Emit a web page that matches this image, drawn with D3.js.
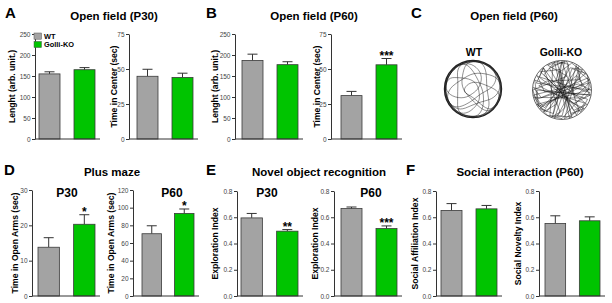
<!DOCTYPE html>
<html>
<head>
<meta charset="utf-8">
<script src="https://cdn.jsdelivr.net/npm/d3@7"></script>
<style>
  body { margin: 0; background: #fff; }
  text { font-family: "Liberation Sans", Arial, sans-serif; font-weight: bold; }
</style>
</head>
<body>
<svg id="chart" width="612" height="303"></svg>
<script>
const groups = ["WT", "Golli-KO"];
const groupColors = ["#a3a3a3", "#00c400"];

// bar means and SEM, [WT, Golli-KO]
const lengthP30 = [155, 165];
const lengthP30Err = [5, 5];
const centerP30 = [44.8, 44];
const centerP30Err = [5, 3];
const lengthP60 = [187, 177];
const lengthP60Err = [15, 7];
const centerP60 = [31, 53];
const centerP60Err = [3, 4.5];
const openArmsP30 = [13.8, 20.3];
const openArmsP30Err = [2.7, 2.7];
const openArmsP60 = [70.5, 93.5];
const openArmsP60Err = [9, 5];
const novelP30 = [0.595, 0.494];
const novelP30Err = [0.034, 0.012];
const novelP60 = [0.666, 0.514];
const novelP60Err = [0.012, 0.02];
const affiliation = [0.652, 0.664];
const affiliationErr = [0.052, 0.026];
const novelty = [0.553, 0.573];
const noveltyErr = [0.058, 0.03];

// significance marks, [WT, Golli-KO]
const starsCenterP60 = ["", "***"];
const starsArmsP30 = ["", "*"];
const starsArmsP60 = ["", "*"];
const starsNovelP30 = ["", "**"];
const starsNovelP60 = ["", "***"];

// tick labels
const ticks250 = [0, 50, 100, 150, 200, 250];
const ticks75 = [0, 25, 50, 75];
const ticks30 = [0, 10, 20, 30];
const ticks120 = [0, 20, 40, 60, 80, 100, 120];
const ticks08 = [0, 0.2, 0.4, 0.6, 0.8];

// open field tracks, waypoints as [angle deg, radius fraction]
const wtTrack = [
  [0,.99],[20,.99],[40,1],[60,.99],[80,1],[100,.99],[120,1],[140,.99],[160,1],[180,.99],
  [200,1],[220,.99],[240,1],[260,.99],[280,1],[300,.99],[320,1],[340,.99],[355,.75],[15,.45],
  [60,.3],[110,.4],[150,.75],[170,1],[190,.97],[210,1],[230,.97],[250,1],[270,.97],[290,1],
  [310,.97],[330,1],[350,.97],[10,1],[30,.97],[50,1],[70,.97],[90,1],[110,.97],[130,1],
  [150,.96],[165,.6],[190,.35],[240,.3],[290,.45],[330,.7],[345,.95],[5,1],[25,.98],[45,1],
  [65,.95],[85,.7],[100,.45],[130,.3],[170,.35],[200,.55],[220,.9],[240,1],[260,.98],[280,1],
  [300,.96],[320,1],[340,.98],[0,.97],[20,1],[40,.75],[70,.5],[110,.55],[135,.85],[155,1],
  [175,.98],[195,1],[215,.96],[230,.7],[260,.55],[300,.6],[320,.9],[340,1],[0,.98],[25,1],
  [50,.97],[75,1],[100,.98],[125,1],[145,.96],[160,.45],[200,.25],[250,.35],[280,.3],[330,.25],
  [30,.3],[80,.55],[95,.95],[115,1],[140,.98],[165,1],[190,.98],[215,1],[240,.97],[265,1],
  [290,.98],[315,1],[345,.99],[10,.8],[40,.55],[90,.2],[180,.15],[220,.45],[250,.8],[270,1],
  [295,.97],[305,.7],[340,.4],[40,.25],[120,.25],[150,.5],[185,.8],[205,1],[230,.98],[255,1],
  [280,.75],[310,.5],[0,.6],[50,.8],[70,1],[95,.97],[120,.75],[140,.55],[190,.6],[210,.88],
  [235,1],[260,.97],[285,1],[310,.98],[335,1],[355,.98]
];
const koTrack = [
  [0,.95],[140,.9],[175,.97],[40,.85],[70,.98],[230,.9],[255,.97],[110,.8],[95,.95],[300,.88],
  [320,.98],[185,.75],[200,.96],[15,.9],[350,.97],[160,.85],[130,.98],[280,.8],[300,.6],[60,.7],
  [35,.97],[215,.9],[240,.98],[90,.9],[65,.96],[250,.75],[275,.97],[120,.88],[150,.97],[330,.85],
  [5,.98],[200,.5],[220,.97],[20,.8],[45,.98],[190,.9],[160,.97],[355,.7],[310,.96],[140,.6],
  [100,.98],[270,.85],[235,.97],[80,.7],[30,.96],[180,.88],[205,.97],[340,.9],[10,.98],[120,.5],
  [75,.97],[250,.9],[290,.98],[110,.92],[140,.98],[310,.8],[345,.98],[170,.6],[195,.98],[25,.8],
  [55,.98],[225,.85],[260,.98],[70,.6],[90,.98],[285,.9],[320,.98],[150,.8],[120,.97],[330,.4],
  [0,.97],[200,.85],[230,.98],[45,.7],[100,.97],[265,.6],[300,.97],[135,.85],[165,.98],[350,.6],
  [20,.97],[60,.99],[85,.96],[180,.97],[210,.99],[240,.96],[270,.99],[20,.5],[330,.97],[355,.99]
];

const svg = d3.select("#chart");
svg.append("rect").attr("width", 612).attr("height", 303).attr("fill", "#fff");

// layout of each small bar chart
const plots = [
  { vals: lengthP30, errs: lengthP30Err, ticks: ticks250, fmt: d3.format("d"), label: "Lenght (arb. unit.)",
    ax: 35, b0: 39, b1: 95, top: 34, bottom: 139, labelX: 12 },
  { vals: centerP30, errs: centerP30Err, ticks: ticks75, fmt: d3.format("d"), label: "Time in Center (sec)",
    ax: 129, b0: 137, b1: 193, top: 34, bottom: 139, labelX: 114 },
  { vals: lengthP60, errs: lengthP60Err, ticks: ticks250, fmt: d3.format("d"), label: "Lenght (arb. unit.)",
    ax: 235, b0: 242, b1: 298, top: 34, bottom: 139, labelX: 215 },
  { vals: centerP60, errs: centerP60Err, ticks: ticks75, fmt: d3.format("d"), label: "Time in Center (sec)",
    ax: 331, b0: 341, b1: 397, top: 34, bottom: 139, labelX: 317, stars: starsCenterP60 },
  { vals: openArmsP30, errs: openArmsP30Err, ticks: ticks30, fmt: d3.format("d"), label: "Time in Open Arms (sec)",
    ax: 32, b0: 38, b1: 95, top: 190, bottom: 296, labelX: 15, stars: starsArmsP30 },
  { vals: openArmsP60, errs: openArmsP60Err, ticks: ticks120, fmt: d3.format("d"), label: "Time in Open Arms (sec)",
    ax: 133, b0: 142, b1: 194, top: 190, bottom: 296, labelX: 111, stars: starsArmsP60 },
  { vals: novelP30, errs: novelP30Err, ticks: ticks08, fmt: d3.format(".1f"), label: "Exploration Index",
    ax: 237, b0: 241, b1: 298, top: 191, bottom: 296, labelX: 215, stars: starsNovelP30 },
  { vals: novelP60, errs: novelP60Err, ticks: ticks08, fmt: d3.format(".1f"), label: "Exploration Index",
    ax: 334, b0: 341, b1: 397, top: 191, bottom: 296, labelX: 315, stars: starsNovelP60 },
  { vals: affiliation, errs: affiliationErr, ticks: ticks08, fmt: d3.format(".1f"), label: "Social Affiliation Index",
    ax: 436, b0: 441, b1: 497, top: 191, bottom: 296, labelX: 415 },
  { vals: novelty, errs: noveltyErr, ticks: ticks08, fmt: d3.format(".1f"), label: "Social Novelty Index",
    ax: 539, b0: 545, b1: 600, top: 191, bottom: 296, labelX: 518 }
];

plots.forEach((p) => {
  const g = svg.append("g");
  const x = d3.scaleBand().domain(groups).range([p.b0, p.b1]).paddingInner(0.4).paddingOuter(0);
  const y = d3.scaleLinear().domain([0, d3.max(p.ticks)]).range([p.bottom, p.top]);
  const rows = groups.map((k, i) => ({ k, v: p.vals[i], e: p.errs[i], s: p.stars ? p.stars[i] : "", c: groupColors[i] }));

  // error bars (upper only)
  const eb = g.selectAll(".err").data(rows).enter().append("g");
  eb.append("line")
    .attr("x1", (d) => x(d.k) + x.bandwidth() / 2)
    .attr("x2", (d) => x(d.k) + x.bandwidth() / 2)
    .attr("y1", (d) => y(d.v)).attr("y2", (d) => y(d.v + d.e))
    .attr("stroke", "#333").attr("stroke-width", 1);
  eb.append("line")
    .attr("x1", (d) => x(d.k) + x.bandwidth() / 2 - 5)
    .attr("x2", (d) => x(d.k) + x.bandwidth() / 2 + 5)
    .attr("y1", (d) => y(d.v + d.e)).attr("y2", (d) => y(d.v + d.e))
    .attr("stroke", "#333").attr("stroke-width", 1);

  g.selectAll(".bar").data(rows).enter().append("rect")
    .attr("x", (d) => x(d.k))
    .attr("y", (d) => y(d.v))
    .attr("width", x.bandwidth())
    .attr("height", (d) => y(0) - y(d.v))
    .attr("fill", (d) => d.c)
    .attr("stroke", "#3a3a3a").attr("stroke-width", 0.8);

  g.selectAll(".star").data(rows.filter((d) => d.s)).enter().append("text")
    .attr("x", (d) => x(d.k) + x.bandwidth() / 2)
    .attr("y", (d) => y(d.v + d.e) + 1.5)
    .attr("text-anchor", "middle")
    .style("font-size", "12px")
    .text((d) => d.s);

  // axes
  const yAxis = g.append("g")
    .attr("transform", `translate(${p.ax},0)`)
    .call(d3.axisLeft(y).tickValues(p.ticks).tickFormat(p.fmt).tickSize(3).tickSizeOuter(0).tickPadding(1.5));
  yAxis.select(".domain").attr("stroke", "#333");
  yAxis.selectAll(".tick line").attr("stroke", "#333");
  yAxis.selectAll("text").style("font-size", "6.5px").attr("fill", "#444").style("font-weight", "normal");

  g.append("line")
    .attr("x1", p.ax).attr("x2", p.b1 + 5)
    .attr("y1", p.bottom).attr("y2", p.bottom)
    .attr("stroke", "#333").attr("stroke-width", 1);

  g.append("text")
    .attr("transform", `translate(${p.labelX},${(p.top + p.bottom) / 2}) rotate(-90)`)
    .attr("text-anchor", "middle")
    .attr("dy", "0.35em")
    .style("font-size", "8.6px")
    .text(p.label);
});

// legend in panel A
const legend = svg.append("g").attr("transform", "translate(34,33)");
groups.forEach((k, i) => {
  legend.append("rect").attr("x", 0).attr("y", i * 8.4).attr("width", 7.5).attr("height", 6.2)
    .attr("fill", groupColors[i]).attr("stroke", "#555").attr("stroke-width", 0.5);
  legend.append("text").attr("x", 10).attr("y", i * 8.4 + 5.6).style("font-size", "7.4px").text(k);
});

// panel letters and titles
const letters = [["A", 5, 18], ["B", 206, 18], ["C", 411, 18], ["D", 4, 175], ["E", 206, 175], ["F", 406, 175]];
letters.forEach(([t, lx, ly]) => {
  svg.append("text").attr("x", lx).attr("y", ly).style("font-size", "15px").text(t);
});
const titles = [
  ["Open field (P30)", 114, 20, 11.5], ["Open field (P60)", 314, 20, 11.5], ["Open field (P60)", 514, 20, 11.5],
  ["Plus maze", 112, 176, 11.5], ["Novel object recognition", 319, 176, 11.5], ["Social interaction (P60)", 520, 176, 11.5],
  ["P30", 67, 196.5, 12], ["P60", 172, 196.5, 12], ["P30", 267, 196.5, 12], ["P60", 371, 196.5, 12],
  ["WT", 474, 56, 10.5], ["Golli-KO", 561, 56, 10.5]
];
titles.forEach(([t, tx, ty, fs]) => {
  svg.append("text").attr("x", tx).attr("y", ty).attr("text-anchor", "middle").style("font-size", fs + "px").text(t);
});

// open field tracks (panel C)
const tracks = [
  { pts: wtTrack, cx: 473, cy: 89, r: 28.5, ring: 1.4, curve: d3.curveBasis },
  { pts: koTrack, cx: 562, cy: 90, r: 29.5, ring: 0.7, curve: d3.curveLinear }
];
tracks.forEach((t) => {
  const rs = d3.scaleLinear().domain([0, 1]).range([0, t.r]);
  const line = d3.lineRadial()
    .angle((d) => (d[0] * Math.PI) / 180)
    .radius((d) => rs(d[1]))
    .curve(t.curve);
  const g = svg.append("g").attr("transform", `translate(${t.cx},${t.cy})`);
  g.append("path").attr("d", line(t.pts)).attr("fill", "none")
    .attr("stroke", "#111").attr("stroke-width", 0.55).attr("stroke-opacity", 0.85);
  g.append("circle").attr("r", t.r).attr("fill", "none").attr("stroke", "#222").attr("stroke-width", t.ring);
});
</script>
</body>
</html>
